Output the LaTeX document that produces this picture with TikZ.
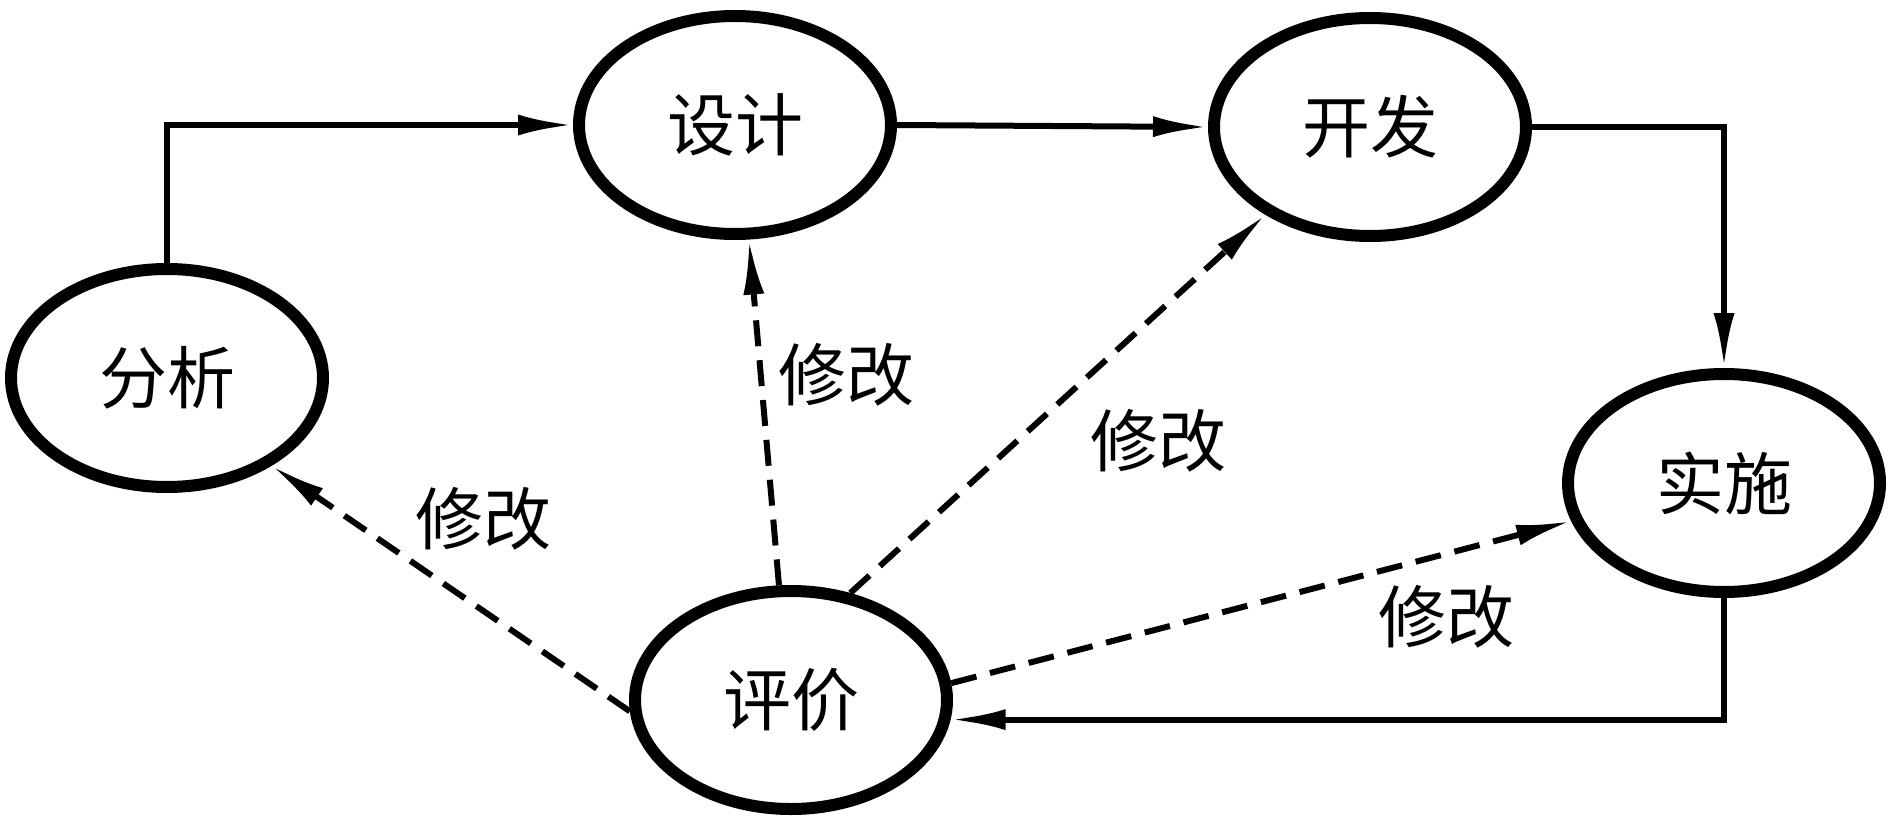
\documentclass[tikz,border=0pt]{standalone}
\usepackage{fontspec}
\newfontfamily\cjk{Noto Sans CJK SC}
\usetikzlibrary{shapes.geometric,arrows.meta}
\tikzset{
  stage/.style={ellipse,draw=black,line width=12pt,minimum width=312pt,minimum height=218pt,inner sep=0pt,font=\cjk\fontsize{68}{74}\selectfont},
  flow/.style={line width=6pt,-{Latex[length=55pt,width=21pt]}},
  back/.style={line width=6pt,dash pattern=on 26pt off 14pt,-{Latex[length=55pt,width=21pt]}},
  lbl/.style={font=\cjk\fontsize{68}{74}\selectfont,inner sep=0pt}
}
\begin{document}
\begin{tikzpicture}[x=1pt,y=-1pt]
\useasboundingbox[fill=white] (0,0) rectangle (1892,826);
\node[stage] (fenxi) at (167,378) {分析};
\node[stage] (sheji) at (735,125) {设计};
\node[stage] (kaifa) at (1370,127) {开发};
\node[stage] (shishi) at (1724,483) {实施};
\node[stage] (pingjia) at (791,700) {评价};
\draw[flow] (fenxi.north) |- (sheji.west);
\draw[flow] (sheji.east) -- (kaifa.west);
\draw[flow] (kaifa.east) -| (shishi.north);
\draw[flow] (shishi.south) |- (pingjia.-7.2);
\draw[back] (pingjia.184) -- (fenxi.-40.6);
\draw[back] (pingjia.96.5) -- (sheji.-83);
\draw[back] (pingjia.61.8) -- (kaifa.-140.6);
\draw[back] (pingjia.6.5) -- (shishi.194);
\node[lbl] (m1) at (846,375) {修改};
\node[lbl] (m2) at (1158,441) {修改};
\node[lbl] (m3) at (483,519) {修改};
\node[lbl] (m4) at (1446,617) {修改};
\end{tikzpicture}
\end{document}
